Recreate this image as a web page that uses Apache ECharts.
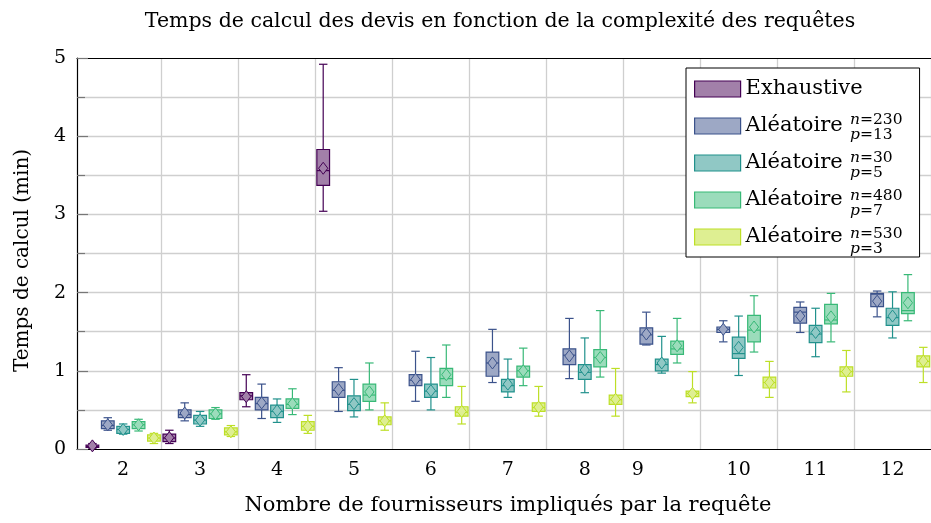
<!DOCTYPE html>
<html>
<head>
<meta charset="utf-8">
<script src="https://cdn.jsdelivr.net/npm/echarts@6/dist/echarts.min.js"></script>
<style>
html, body { margin: 0; padding: 0; background: #fff; }
#main { width: 931px; height: 523px; }
</style>
</head>
<body>
<div id="main"></div>
<script>
// categories = nombre de fournisseurs
var categories = ['2', '3', '4', '5', '6', '7', '8', '9', '10', '11', '12'];
var yTicks = [0, 1, 2, 3, 4, 5];

// [min, q1, median, q3, max] par catégorie
var exhaustiveBox = [
  [0.01, 0.02, 0.03, 0.05, 0.07], [0.07, 0.095, 0.14, 0.19, 0.24],
  [0.54, 0.63, 0.68, 0.72, 0.95], [3.04, 3.37, 3.56, 3.83, 4.92],
  null, null, null, null, null, null, null
];
var exhaustiveMean = [0.04, 0.145, 0.67, 3.59, null, null, null, null, null, null, null];

var a230Box = [
  [0.24, 0.26, 0.30, 0.36, 0.40], [0.36, 0.40, 0.44, 0.50, 0.59], [0.39, 0.50, 0.58, 0.66, 0.83],
  [0.48, 0.66, 0.75, 0.86, 1.04], [0.61, 0.81, 0.88, 0.95, 1.25], [0.85, 0.93, 1.10, 1.24, 1.53],
  [0.90, 1.08, 1.20, 1.28, 1.67], [1.33, 1.34, 1.46, 1.55, 1.75], [1.37, 1.49, 1.53, 1.56, 1.64],
  [1.49, 1.61, 1.75, 1.81, 1.88], [1.69, 1.82, 1.98, 1.99, 2.02]
];
var a230Mean = [0.31, 0.46, 0.59, 0.76, 0.89, 1.10, 1.19, 1.47, 1.53, 1.70, 1.89];

var a30Box = [
  [0.19, 0.20, 0.25, 0.29, 0.32], [0.29, 0.32, 0.37, 0.43, 0.48], [0.34, 0.40, 0.48, 0.56, 0.64],
  [0.41, 0.49, 0.57, 0.68, 0.89], [0.50, 0.66, 0.74, 0.83, 1.17], [0.66, 0.73, 0.81, 0.89, 1.15],
  [0.72, 0.89, 0.98, 1.08, 1.42], [0.97, 1.00, 1.08, 1.15, 1.44], [0.94, 1.16, 1.22, 1.43, 1.70],
  [1.18, 1.36, 1.47, 1.58, 1.80], [1.42, 1.58, 1.68, 1.80, 2.01]
];
var a30Mean = [0.25, 0.37, 0.49, 0.58, 0.745, 0.83, 1.01, 1.10, 1.30, 1.49, 1.70];

var a480Box = [
  [0.23, 0.26, 0.31, 0.35, 0.38], [0.38, 0.39, 0.45, 0.50, 0.53], [0.44, 0.52, 0.57, 0.64, 0.77],
  [0.50, 0.61, 0.69, 0.83, 1.10], [0.66, 0.81, 0.90, 1.03, 1.33], [0.81, 0.92, 1.00, 1.06, 1.29],
  [0.92, 1.05, 1.17, 1.27, 1.77], [1.10, 1.21, 1.28, 1.38, 1.67], [1.24, 1.37, 1.52, 1.71, 1.96],
  [1.37, 1.60, 1.65, 1.85, 1.99], [1.64, 1.73, 1.77, 2.00, 2.23]
];
var a480Mean = [0.31, 0.45, 0.58, 0.73, 0.95, 1.00, 1.17, 1.32, 1.56, 1.69, 1.87];

var a530Box = [
  [0.07, 0.10, 0.14, 0.18, 0.20], [0.16, 0.18, 0.22, 0.27, 0.30], [0.20, 0.24, 0.29, 0.35, 0.43],
  [0.24, 0.31, 0.36, 0.41, 0.59], [0.32, 0.42, 0.47, 0.54, 0.80], [0.42, 0.48, 0.53, 0.59, 0.80],
  [0.42, 0.57, 0.63, 0.69, 1.03], [0.59, 0.67, 0.71, 0.74, 0.99], [0.66, 0.78, 0.85, 0.92, 1.12],
  [0.73, 0.93, 0.99, 1.05, 1.26], [0.85, 1.05, 1.12, 1.19, 1.30]
];
var a530Mean = [0.14, 0.22, 0.29, 0.36, 0.48, 0.535, 0.635, 0.71, 0.85, 0.99, 1.125];

var seriesNames = ['Exhaustive', 'Aléatoire n=230 p=13', 'Aléatoire n=30 p=5', 'Aléatoire n=480 p=7', 'Aléatoire n=530 p=3'];
var legendLabels = ['Exhaustive', 'Aléatoire', 'Aléatoire', 'Aléatoire', 'Aléatoire'];
var legendN = [null, '230', '30', '480', '530'];
var legendP = [null, '13', '5', '7', '3'];
var boxes = [exhaustiveBox, a230Box, a30Box, a480Box, a530Box];
var means = [exhaustiveMean, a230Mean, a30Mean, a480Mean, a530Mean];
var strokes = ['#440154', '#3b528b', '#21918c', '#38b977', '#bddf26'];
var fills = ['#a280a9', '#9da8c5', '#90c8c5', '#9bdcbb', '#deef92'];

var FONT = 'DejaVu Serif';

function buildData(box, mean) {
  var out = [];
  for (var i = 0; i < categories.length; i++) {
    if (!box[i]) continue;
    out.push([i].concat(box[i]).concat([mean[i]]));
  }
  return out;
}

// boîte à moustaches + losange (moyenne), décalée selon la série
function makeRender(slot, stroke, fill) {
  return function (params, api) {
    var cat = api.value(0);
    var band = api.size([1, 0])[0];
    var dx = (slot - 2) * band * 0.2;
    var bw = band * 0.165, cw = band * 0.11;
    var x = api.coord([cat, 0])[0] + dx;
    var y = function (d) { return api.coord([cat, api.value(d)])[1]; };
    var yMin = y(1), yQ1 = y(2), yMed = y(3), yQ3 = y(4), yMax = y(5), yMean = y(6);
    var ls = { stroke: stroke, lineWidth: 1.2, fill: null };
    var dw = 4.6, dh = 6;
    return {
      type: 'group',
      children: [
        { type: 'line', shape: { x1: x, y1: yMax, x2: x, y2: yQ3 }, style: ls },
        { type: 'line', shape: { x1: x, y1: yQ1, x2: x, y2: yMin }, style: ls },
        { type: 'line', shape: { x1: x - cw / 2, y1: yMax, x2: x + cw / 2, y2: yMax }, style: ls },
        { type: 'line', shape: { x1: x - cw / 2, y1: yMin, x2: x + cw / 2, y2: yMin }, style: ls },
        { type: 'rect', shape: { x: x - bw / 2, y: yQ3, width: bw, height: yQ1 - yQ3 },
          style: { fill: fill, stroke: stroke, lineWidth: 1.2 } },
        { type: 'line', shape: { x1: x - bw / 2, y1: yMed, x2: x + bw / 2, y2: yMed }, style: ls },
        { type: 'polygon', shape: { points: [[x, yMean - dh], [x + dw, yMean], [x, yMean + dh], [x - dw, yMean]] },
          style: { fill: fill, stroke: stroke, lineWidth: 1 } }
      ]
    };
  };
}

var series = seriesNames.map(function (name, i) {
  return {
    name: name,
    type: 'custom',
    xAxisIndex: 2,
    yAxisIndex: 1,
    renderItem: makeRender(i, strokes[i], fills[i]),
    itemStyle: { color: fills[i], borderColor: strokes[i] },
    encode: { x: 0, y: [1, 2, 3, 4, 5, 6] },
    data: buildData(boxes[i], means[i])
  };
});

var chart = echarts.init(document.getElementById('main'));
chart.setOption({
  animation: false,
  title: {
    text: 'Temps de calcul des devis en fonction de la complexité des requêtes',
    left: 495, top: 6, textAlign: 'center',
    textStyle: { fontFamily: FONT, fontSize: 20.5, fontWeight: 'normal', color: '#000' }
  },
  legend: [
    {
      // icônes + libellés, cadre
      orient: 'vertical',
      left: 686, top: 68,
      padding: [6, 57, 5, 8],
      itemGap: 7,
      itemWidth: 46, itemHeight: 16,
      backgroundColor: '#fff',
      borderColor: '#000', borderWidth: 1,
      data: seriesNames.map(function (n, i) {
        return { name: n, icon: 'rect', itemStyle: { color: fills[i], borderColor: strokes[i], borderWidth: 1.2 } };
      }),
      formatter: function (name) { return legendLabels[seriesNames.indexOf(name)]; },
      textStyle: { fontFamily: FONT, fontSize: 21, lineHeight: 30, color: '#000' }
    },
    {
      // indices n / p superposés
      orient: 'vertical',
      left: 844, top: 68,
      padding: [6, 0, 5, 0],
      itemGap: 7,
      itemWidth: 1, itemHeight: 16,
      selectedMode: false,
      data: seriesNames.map(function (n) {
        return { name: n, icon: 'rect', itemStyle: { color: 'rgba(0,0,0,0)', borderWidth: 0 } };
      }),
      formatter: function (name) {
        var i = seriesNames.indexOf(name);
        if (i === 0) return '{s| }\n{s| }';
        return '{i|n}{s|=' + legendN[i] + '}\n{i|p}{s|=' + legendP[i] + '}';
      },
      textStyle: {
        fontFamily: FONT, color: '#000',
        rich: {
          i: { fontFamily: FONT, fontSize: 15.5, lineHeight: 15, fontStyle: 'italic', color: '#000' },
          s: { fontFamily: FONT, fontSize: 15.5, lineHeight: 15, color: '#000' }
        }
      }
    }
  ],
  grid: [
    { left: 77, top: 58, width: 858, height: 391 },
    { left: 84.7, top: 58, width: 850.3, height: 391 }
  ],
  xAxis: [
    { gridIndex: 0, type: 'value', min: 0, max: 1, position: 'bottom',
      axisLine: { show: true, lineStyle: { color: '#000', width: 1.2 } },
      axisTick: { show: false }, axisLabel: { show: false }, splitLine: { show: false } },
    { gridIndex: 0, type: 'value', min: 0, max: 1, position: 'top',
      axisLine: { show: true, lineStyle: { color: '#000', width: 1.2 } },
      axisTick: { show: false }, axisLabel: { show: false }, splitLine: { show: false } },
    { gridIndex: 1, type: 'category', data: categories, boundaryGap: true,
      axisLine: { show: false }, axisTick: { show: false },
      axisLabel: {
        interval: 0,
        fontFamily: FONT, fontSize: 19, color: '#000', margin: 12,
        formatter: function (v) { return v === '9' ? '{n9|9}' : v; },
        rich: { n9: { fontFamily: FONT, fontSize: 19, color: '#000', padding: [0, 48, 0, 0] } }
      },
      splitLine: { show: true, showMinLine: false, interval: 0, lineStyle: { color: '#cfcfcf', width: 1.3 } },
      name: 'Nombre de fournisseurs impliqués par la requête',
      nameLocation: 'middle', nameGap: 46,
      nameTextStyle: { fontFamily: FONT, fontSize: 21, color: '#000' } }
  ],
  yAxis: [
    { gridIndex: 0, type: 'value', min: yTicks[0], max: yTicks[yTicks.length - 1], interval: 1,
      axisLine: { show: true, lineStyle: { color: '#000', width: 1.2 } },
      axisTick: { show: true, inside: true, length: 11, lineStyle: { color: '#777', width: 1.2 } },
      minorTick: { show: true, splitNumber: 2, length: 8, lineStyle: { color: '#777', width: 1.2 } },
      axisLabel: { fontFamily: FONT, fontSize: 19, color: '#000', margin: 11 },
      splitLine: { show: true, showMinLine: false, showMaxLine: false, lineStyle: { color: '#cfcfcf', width: 1.3 } },
      minorSplitLine: { show: true, lineStyle: { color: '#cfcfcf', width: 1.3 } },
      name: 'Temps de calcul (min)',
      nameLocation: 'middle', nameGap: 44,
      nameTextStyle: { fontFamily: FONT, fontSize: 20, color: '#000', padding: [0, 14, 0, 0] } },
    { gridIndex: 1, type: 'value', min: yTicks[0], max: yTicks[yTicks.length - 1], show: false,
      splitLine: { show: false } }
  ],
  series: series
});
</script>
</body>
</html>
